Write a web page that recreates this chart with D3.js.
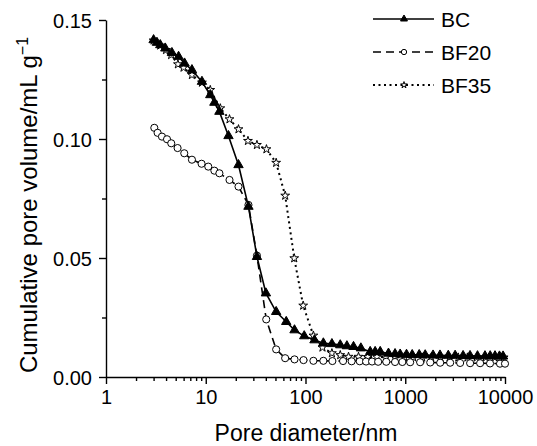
<!DOCTYPE html>
<html lang="en">
<head>
<meta charset="utf-8">
<title>Pore volume</title>
<script src="https://cdn.jsdelivr.net/npm/d3@7"></script>
<style>
  html, body { margin:0; padding:0; background:#fff; overflow:hidden }
  svg { display:block }
  text { font-family: "Liberation Sans", Arial, sans-serif; fill:#000 }
</style>
</head>
<body>
<svg></svg>
<script>
// data: pore diameter (nm) and cumulative volume (mL/g)
var bcD = [3.0, 3.24, 3.5, 3.93, 4.58, 5.34, 6.13, 7.27, 9.16, 11.1, 12.2, 13.7, 16.9, 21.3, 26.8, 32.6, 40.1, 50.8, 64.1, 77.6, 97.1, 123, 151, 184, 223, 260, 303, 359, 445, 499, 561, 679, 790, 889, 1030, 1174, 1380, 1585, 1900, 2230, 2700, 3162, 3800, 4460, 5300, 6300, 7100, 7940, 8800, 9560];
var bcV = [0.1416, 0.1405, 0.1395, 0.1381, 0.1362, 0.1346, 0.1318, 0.1290, 0.1241, 0.1185, 0.1153, 0.1115, 0.1013, 0.0891, 0.0716, 0.0505, 0.0352, 0.0274, 0.0232, 0.0197, 0.0172, 0.0155, 0.0142, 0.0139, 0.0134, 0.0130, 0.0127, 0.0121, 0.0106, 0.0106, 0.0106, 0.0099, 0.0097, 0.0095, 0.0094, 0.0093, 0.0093, 0.0092, 0.0091, 0.0091, 0.0090, 0.0090, 0.0089, 0.0089, 0.0088, 0.0088, 0.0088, 0.0088, 0.0087, 0.0087];

var bf20D = [3.05, 3.29, 3.64, 4.09, 4.51, 5.22, 6.09, 7.27, 9.08, 10.6, 12.2, 13.7, 17.3, 21.3, 26.8, 32.6, 40.4, 50.8, 62.5, 77.6, 95.5, 120, 151, 186, 238, 290, 350, 405, 465, 535, 645, 790, 935, 1120, 1410, 1780, 2240, 2820, 3550, 4470, 5630, 7080, 8910, 10000];
var bf20V = [0.1047, 0.1026, 0.1010, 0.0999, 0.0982, 0.0962, 0.0940, 0.0913, 0.0896, 0.0884, 0.0867, 0.0856, 0.0828, 0.0800, 0.0723, 0.0510, 0.0242, 0.0116, 0.0079, 0.0074, 0.0071, 0.0068, 0.0068, 0.0067, 0.0067, 0.0066, 0.0066, 0.0065, 0.0065, 0.0064, 0.0064, 0.0063, 0.0063, 0.0062, 0.0062, 0.0061, 0.0060, 0.0060, 0.0059, 0.0058, 0.0058, 0.0057, 0.0056, 0.0056];

var bf35D = [3.0, 3.5, 4.0, 4.5, 5.26, 5.99, 7.27, 9.16, 11.1, 14.0, 17.3, 21.3, 26.5, 32.6, 40.6, 50.8, 62.6, 77.1, 94.8, 120, 148, 184, 223, 270, 340, 420, 520, 640, 790, 980, 1200, 1480, 1820, 2250, 2780, 3400, 4200, 5200, 6400, 7900, 9700];
var bf35V = [0.1414, 0.1393, 0.1374, 0.1353, 0.1314, 0.1300, 0.1269, 0.1237, 0.1206, 0.1129, 0.1083, 0.1041, 0.0992, 0.0975, 0.0957, 0.0900, 0.0762, 0.0499, 0.0300, 0.0174, 0.0124, 0.0100, 0.0092, 0.0085, 0.0085, 0.0084, 0.0084, 0.0083, 0.0083, 0.0083, 0.0083, 0.0082, 0.0082, 0.0082, 0.0082, 0.0082, 0.0082, 0.0082, 0.0082, 0.0082, 0.0082];

var seriesNames = ["BC", "BF20", "BF35"];
var xTicks = [1, 10, 100, 1000, 10000];
var yTicks = [0, 0.05, 0.10, 0.15];

var width = 537, height = 446;
var svg = d3.select("svg").attr("width", width).attr("height", height);

var x = d3.scaleLog().domain([1, 10000]).range([106, 505]);
var y = d3.scaleLinear().domain([0, 0.15]).range([377, 20]);

// minor ticks
var xMinor = [];
xTicks.slice(0, -1).forEach(function(t) {
  for (var k = 2; k <= 9; k++) xMinor.push(t * k);
});
var yMinor = [0.025, 0.075, 0.125];

svg.append("g").attr("transform", "translate(0," + y(0) + ")")
   .call(d3.axisBottom(x).tickValues(xMinor).tickSize(4).tickFormat(""))
   .call(function(g) { g.select(".domain").remove(); });
svg.append("g").attr("transform", "translate(" + x(1) + ",0)")
   .call(d3.axisLeft(y).tickValues(yMinor).tickSize(4).tickFormat(""))
   .call(function(g) { g.select(".domain").remove(); });

var xAxis = svg.append("g").attr("transform", "translate(0," + y(0) + ")")
   .call(d3.axisBottom(x).tickValues(xTicks).tickSize(7).tickSizeOuter(0).tickPadding(6)
         .tickFormat(d3.format("d")));
var yAxis = svg.append("g").attr("transform", "translate(" + x(1) + ",0)")
   .call(d3.axisLeft(y).tickValues(yTicks).tickSize(7).tickSizeOuter(0).tickPadding(7)
         .tickFormat(d3.format(".2f")));

svg.selectAll(".tick line, .domain").attr("stroke", "#000").attr("stroke-width", 1.4);
svg.selectAll(".tick text").style("font-size", "20px")
   .style("font-family", "'Liberation Sans', Arial, sans-serif").attr("fill", "#000");
yAxis.selectAll(".tick text").attr("dy", "0.36em");

// axis titles
svg.append("text").attr("x", 306).attr("y", 441)
   .attr("text-anchor", "middle").style("font-size", "23px")
   .text("Pore diameter/nm");
var yt = svg.append("text")
   .attr("transform", "translate(37,205) rotate(-90)")
   .attr("text-anchor", "middle").style("font-size", "24px");
yt.append("tspan").text("Cumulative pore volume/mL g");
yt.append("tspan").attr("dy", -9).style("font-size", "16px").text("\u22121");

// series
var series = [
  {name: seriesNames[0], d: bcD, v: bcV, dash: null, width: 1.6, sym: d3.symbolTriangle, size: 38, fill: "#000"},
  {name: seriesNames[1], d: bf20D, v: bf20V, dash: "8,5", width: 1.6, sym: d3.symbolCircle, size: 40, fill: "#fff"},
  {name: seriesNames[2], d: bf35D, v: bf35V, dash: "2,3.5", width: 2, sym: d3.symbolStar, size: 24, fill: "#fff"}
];

var line = d3.line().x(function(p) { return x(p[0]); }).y(function(p) { return y(p[1]); });

series.slice().reverse().forEach(function(s) {
  var pts = s.d.map(function(d, i) { return [d, s.v[i]]; });
  svg.append("path").datum(pts).attr("d", line)
     .attr("fill", "none").attr("stroke", "#000").attr("stroke-width", s.width)
     .attr("stroke-dasharray", s.dash);
  svg.append("g").selectAll("path").data(pts).enter().append("path")
     .attr("transform", function(p) { return "translate(" + x(p[0]) + "," + y(p[1]) + ")"; })
     .attr("d", d3.symbol().type(s.sym).size(s.size))
     .attr("fill", s.fill).attr("stroke", "#000").attr("stroke-width", 1);
});

// legend
var legend = svg.append("g");
series.forEach(function(s, i) {
  var ly = 19 + i * 33;
  legend.append("line").attr("x1", 373).attr("x2", 434).attr("y1", ly).attr("y2", ly)
     .attr("stroke", "#000").attr("stroke-width", s.width).attr("stroke-dasharray", s.dash);
  legend.append("path").attr("transform", "translate(404," + ly + ")")
     .attr("d", d3.symbol().type(s.sym).size(s.size * 0.55))
     .attr("fill", s.fill).attr("stroke", "#000").attr("stroke-width", 1);
  legend.append("text").attr("x", 441).attr("y", ly).attr("dy", "0.36em")
     .style("font-size", "21px").text(s.name);
});
</script>
</body>
</html>
